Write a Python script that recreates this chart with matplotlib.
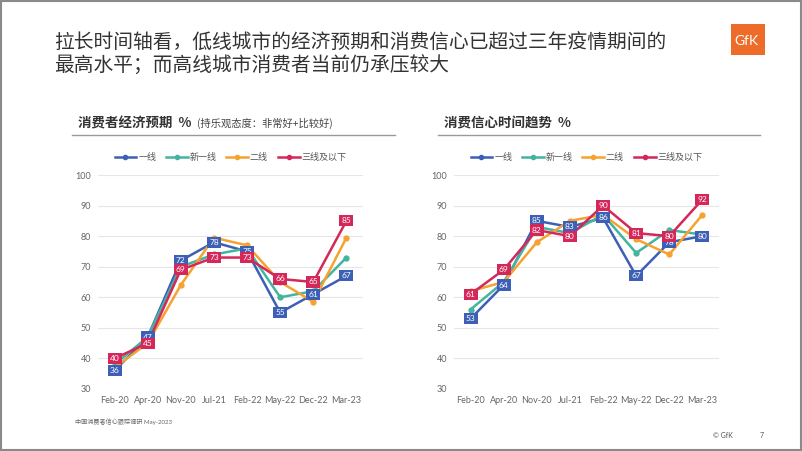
import matplotlib.pyplot as plt
from matplotlib.patches import Rectangle
from matplotlib.lines import Line2D

plt.rcParams['font.family'] = ['Lato', 'Noto Sans CJK SC', 'DejaVu Sans']

months = ['Feb-20', 'Apr-20', 'Nov-20', 'Jul-21', 'Feb-22', 'May-22', 'Dec-22', 'Mar-23']
series_names = ['一线', '新一线', '二线', '三线及以下']
colors = ['#3d5fb6', '#43b49d', '#f5a230', '#d4285a']

# 消费者经济预期
econ_tier1 = [36, 47, 72, 78, 75, 55, 61, 67]
econ_newtier1 = [38, 47, 70, 74, 76, 60, 62, 73]
econ_tier2 = [37, 45, 64, 79.5, 77, 65, 58.5, 79.5]
econ_tier3 = [40, 45, 69, 73, 73, 66, 65, 85]

# 消费信心
conf_tier1 = [53, 64, 85, 83, 86, 67, 78, 80]
conf_newtier1 = [56, 65, 83, 81, 87, 74.5, 82, 80.5]
conf_tier2 = [62, 65, 78, 85, 87, 79, 74, 87]
conf_tier3 = [61, 69, 82, 80, 90, 81, 80, 92]

W, H = 802, 451
fig = plt.figure(figsize=(W / 100, H / 100), dpi=100)
fig.patches.append(Rectangle((0.001, 0.002), 0.998, 0.996, transform=fig.transFigure,
                             fill=False, edgecolor='#8a8a8a', linewidth=1.5))

# title
fig.text(54 / W, 1 - 43 / H, '拉长时间轴看，低线城市的经济预期和消费信心已超过三年疫情期间的',
         fontsize=14.2, color='#333333', va='center', family='Noto Sans CJK SC')
fig.text(54 / W, 1 - 66 / H, '最高水平；而高线城市消费者当前仍承压较大',
         fontsize=14.2, color='#333333', va='center', family='Noto Sans CJK SC')

# GfK logo
fig.patches.append(Rectangle((731 / W, 1 - 55 / H), 34 / W, 31 / H, transform=fig.transFigure,
                             facecolor='#ee6c2a', edgecolor='none'))
fig.text(746 / W, 1 - 41 / H, 'GfK', color='white', fontsize=10, ha='center', va='center')

# section headers
fig.text(78 / W, 1 - 123 / H, '消费者经济预期  %', fontsize=9.7, fontweight='bold', color='#333333',
         va='center', family='Noto Sans CJK SC')
fig.text(197 / W, 1 - 123 / H, '(持乐观态度：非常好+比较好)', fontsize=7.4, color='#444444',
         va='center', family='Noto Sans CJK SC')
fig.text(444 / W, 1 - 123 / H, '消费信心时间趋势  %', fontsize=9.7, fontweight='bold', color='#333333',
         va='center', family='Noto Sans CJK SC')
fig.add_artist(Line2D([72 / W, 395 / W], [1 - 135 / H] * 2, color='#999999', lw=1))
fig.add_artist(Line2D([438 / W, 760 / W], [1 - 135 / H] * 2, color='#999999', lw=1))

# footer
fig.text(75 / W, 1 - 422 / H, '中国消费者信心跟踪调研 May-2023', fontsize=4.4, color='#666666',
         va='center')
fig.text(713 / W, 1 - 435 / H, '© GfK', fontsize=5, color='#555555', va='center')
fig.text(760 / W, 1 - 435 / H, '7', fontsize=5, color='#555555', va='center')


def draw_panel(left_px, data):
    ax = fig.add_axes([left_px / W, (H - 389) / H, 265 / W, 214 / H])
    x = range(len(months))
    for vals, c in zip(data, colors):
        ax.plot(x, vals, color=c, lw=1.8, marker='o', markersize=3.5, zorder=3)
    for idx in (0, 3):
        for xi, v in zip(x, data[idx]):
            ax.text(xi, v, f'{v:.0f}', color='white', fontsize=6, ha='center', va='center',
                    zorder=5 + idx,
                    bbox=dict(boxstyle='square,pad=0.25', facecolor=colors[idx], edgecolor='none'))
    ax.set_xlim(-0.5, len(months) - 0.5)
    ax.set_ylim(30, 100)
    ax.set_yticks(range(30, 101, 10))
    ax.set_xticks(list(x))
    ax.set_xticklabels(months)
    ax.grid(axis='y', color='#e6e6e6', lw=0.8)
    ax.set_axisbelow(True)
    for s in ax.spines.values():
        s.set_visible(False)
    ax.tick_params(length=0, labelsize=6.5, colors='#666666', pad=5)
    handles = [Line2D([], [], color=c, lw=1.8, marker='o', markersize=3) for c in colors]
    ax.legend(handles, series_names, ncol=4, loc='center', bbox_to_anchor=(0.5, 1.08),
              frameon=False, fontsize=6.5, handlelength=2.4, handletextpad=0.2,
              columnspacing=1.1, labelcolor='#555555')
    return ax


draw_panel(98, [econ_tier1, econ_newtier1, econ_tier2, econ_tier3])
draw_panel(454, [conf_tier1, conf_newtier1, conf_tier2, conf_tier3])

fig.savefig('out.png', dpi=100)
